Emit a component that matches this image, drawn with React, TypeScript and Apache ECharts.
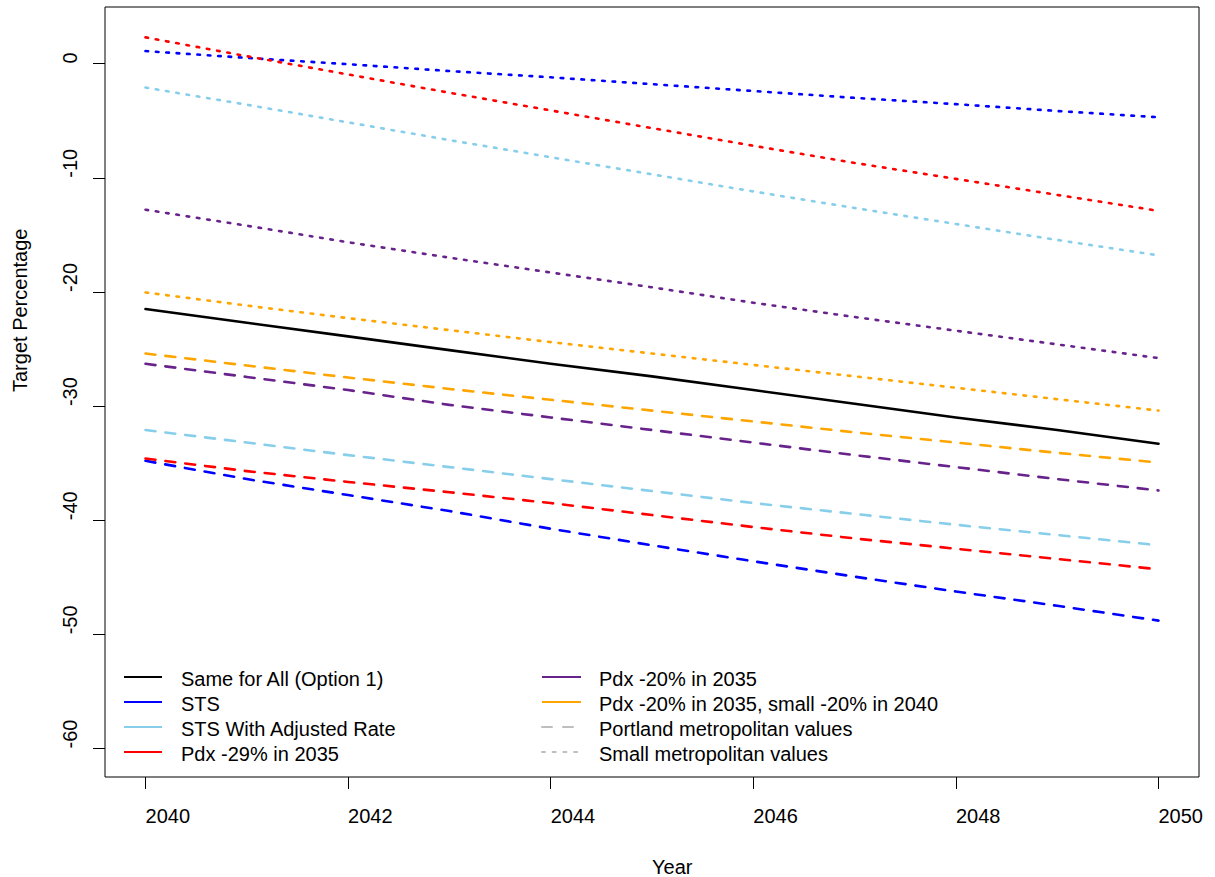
import React, { useEffect, useRef } from "react";
import * as echarts from "echarts";

// Projection years and axis ticks
const years = [2040, 2041, 2042, 2043, 2044, 2045, 2046, 2047, 2048, 2049, 2050];
const xTicks = [2040, 2042, 2044, 2046, 2048, 2050];
const yTicks = [-60, -50, -40, -30, -20, -10, 0];

// Same target everywhere (solid)
const sameForAll = [-21.5, -22.7, -23.9, -25.1, -26.3, -27.4, -28.6, -29.8, -31.0, -32.1, -33.3];

// Portland metropolitan values (dashed)
const stsPortland = [-34.8, -36.4, -37.8, -39.2, -40.75, -42.2, -43.6, -44.95, -46.25, -47.5, -48.8];
const stsAdjPortland = [-32.1, -33.2, -34.3, -35.35, -36.4, -37.45, -38.5, -39.45, -40.4, -41.3, -42.2];
const pdx29Portland = [-34.6, -35.7, -36.65, -37.55, -38.5, -39.55, -40.6, -41.6, -42.5, -43.4, -44.3];
const pdx20Portland = [-26.3, -27.45, -28.6, -29.9, -31.0, -32.1, -33.2, -34.3, -35.35, -36.4, -37.4];
const pdx20Small20Portland = [-25.4, -26.45, -27.5, -28.5, -29.45, -30.4, -31.35, -32.3, -33.2, -34.1, -34.95];

// Small metropolitan values (dotted)
const stsSmall = [1.1, 0.5, -0.05, -0.65, -1.2, -1.8, -2.4, -3.0, -3.55, -4.15, -4.7];
const stsAdjSmall = [-2.1, -3.6, -5.15, -6.7, -8.2, -9.7, -11.2, -12.65, -14.05, -15.45, -16.8];
const pdx29Small = [2.3, 0.65, -0.95, -2.55, -4.1, -5.65, -7.2, -8.7, -10.1, -11.5, -12.9];
const pdx20Small = [-12.8, -14.2, -15.65, -17.0, -18.3, -19.6, -20.95, -22.2, -23.4, -24.6, -25.8];
const pdx20Small20Small = [-20.05, -21.2, -22.3, -23.35, -24.4, -25.4, -26.4, -27.4, -28.4, -29.4, -30.4];

// Scenario names and colours
const scenarioNames = [
  "Same for All (Option 1)",
  "STS",
  "STS With Adjusted Rate",
  "Pdx -29% in 2035",
  "Pdx -20% in 2035",
  "Pdx -20% in 2035, small -20% in 2040",
];
const scenarioColors = ["#000000", "#0000FF", "#87CEEB", "#FF0000", "#68228B", "#FFA500"];
const styleNames = ["Portland metropolitan values", "Small metropolitan values"];
const styleColor = "#BEBEBE";

const FONT = '"Liberation Sans", Arial, sans-serif';
const LW = 2.6;
const DASH = [10, 10];
const DOT = [2.6, 7.8];

function pairs(values: number[]) {
  return years.map((y, i) => [y, values[i]]);
}

function lineSeries(name: string, values: number[], color: string, dash: number[] | null) {
  return {
    type: "line",
    name,
    data: pairs(values),
    showSymbol: false,
    symbol: "none",
    silent: true,
    lineStyle: {
      color,
      width: LW,
      type: dash ? dash : "solid",
      cap: "round",
      join: "round",
    },
  };
}

export default function App() {
  const ref = useRef<HTMLDivElement>(null);

  useEffect(() => {
    if (!ref.current) return;
    const chart = echarts.init(ref.current, null, { renderer: "svg" });

    const series = [
      lineSeries(scenarioNames[0], sameForAll, scenarioColors[0], null),
      lineSeries(scenarioNames[1] + " (Portland)", stsPortland, scenarioColors[1], DASH),
      lineSeries(scenarioNames[1] + " (small)", stsSmall, scenarioColors[1], DOT),
      lineSeries(scenarioNames[2] + " (Portland)", stsAdjPortland, scenarioColors[2], DASH),
      lineSeries(scenarioNames[2] + " (small)", stsAdjSmall, scenarioColors[2], DOT),
      lineSeries(scenarioNames[3] + " (Portland)", pdx29Portland, scenarioColors[3], DASH),
      lineSeries(scenarioNames[3] + " (small)", pdx29Small, scenarioColors[3], DOT),
      lineSeries(scenarioNames[4] + " (Portland)", pdx20Portland, scenarioColors[4], DASH),
      lineSeries(scenarioNames[4] + " (small)", pdx20Small, scenarioColors[4], DOT),
      lineSeries(scenarioNames[5] + " (Portland)", pdx20Small20Portland, scenarioColors[5], DASH),
      lineSeries(scenarioNames[5] + " (small)", pdx20Small20Small, scenarioColors[5], DOT),
    ];

    // Two-column key drawn inside the plot area
    const rowY = [677, 702, 727, 752];
    const cols = [
      { lineX1: 124, lineX2: 162, textX: 181 },
      { lineX1: 542, lineX2: 581, textX: 599 },
    ];
    const keyItems: any[] = [];
    const entries = [
      ...scenarioNames.slice(0, 4).map((t, i) => ({ col: 0, row: i, text: t, color: scenarioColors[i], dash: null as number[] | null })),
      { col: 1, row: 0, text: scenarioNames[4], color: scenarioColors[4], dash: null },
      { col: 1, row: 1, text: scenarioNames[5], color: scenarioColors[5], dash: null },
      { col: 1, row: 2, text: styleNames[0], color: styleColor, dash: [10, 11] },
      { col: 1, row: 3, text: styleNames[1], color: styleColor, dash: [3, 7.7] },
    ];
    entries.forEach((e) => {
      const c = cols[e.col];
      const y = rowY[e.row];
      keyItems.push({
        type: "line",
        silent: true,
        shape: { x1: c.lineX1, y1: y, x2: c.lineX2, y2: y },
        style: {
          stroke: e.color,
          lineWidth: 2,
          lineDash: e.dash || null,
          lineCap: e.dash ? "round" : "butt",
        },
      });
      keyItems.push({
        type: "text",
        silent: true,
        x: c.textX,
        y: y + 2,
        style: {
          text: e.text,
          fill: "#000",
          fontSize: 20,
          fontFamily: FONT,
          align: "left",
          verticalAlign: "middle",
        },
      });
    });

    chart.setOption({
      animation: false,
      backgroundColor: "#ffffff",
      grid: {
        left: 105,
        right: 16,
        top: 7,
        bottom: 100,
        show: true,
        borderColor: "#000",
        borderWidth: 1,
        backgroundColor: "transparent",
        containLabel: false,
        outerBoundsMode: "none",
      },
      xAxis: {
        type: "value",
        min: 2039.6,
        max: 2050.4,
        name: "Year",
        nameLocation: "middle",
        nameGap: 90,
        nameTextStyle: {
          fontSize: 20,
          fontFamily: FONT,
          color: "#000",
          align: "left",
          verticalAlign: "middle",
        },
        axisLine: { show: false, onZero: false },
        axisTick: {
          show: true,
          inside: false,
          length: 12,
          customValues: xTicks,
          lineStyle: { color: "#000", width: 1 },
        },
        axisLabel: {
          show: true,
          customValues: xTicks,
          margin: 39,
          fontSize: 20,
          fontFamily: FONT,
          color: "#000",
          align: "left",
          verticalAlign: "middle",
          formatter: (v: number) => String(v),
        },
        splitLine: { show: false },
      },
      yAxis: {
        type: "value",
        min: -62.5,
        max: 4.96,
        name: "Target Percentage",
        nameLocation: "middle",
        nameRotate: 90,
        nameGap: 85,
        nameTextStyle: {
          fontSize: 20,
          fontFamily: FONT,
          color: "#000",
          align: "left",
          verticalAlign: "middle",
        },
        axisLine: { show: false, onZero: false },
        axisTick: {
          show: true,
          inside: false,
          length: 12,
          customValues: yTicks,
          lineStyle: { color: "#000", width: 1 },
        },
        axisLabel: {
          show: true,
          customValues: yTicks,
          rotate: 90,
          margin: 35,
          fontSize: 20,
          fontFamily: FONT,
          color: "#000",
          align: "left",
          verticalAlign: "middle",
          formatter: (v: number) => String(v),
        },
        splitLine: { show: false },
      },
      series,
      graphic: { elements: keyItems },
    });

    return () => {
      chart.dispose();
    };
  }, []);

  return (
    <div
      ref={ref}
      style={{ position: "fixed", left: 0, top: 0, width: 1215, height: 877, background: "#fff" }}
    />
  );
}
